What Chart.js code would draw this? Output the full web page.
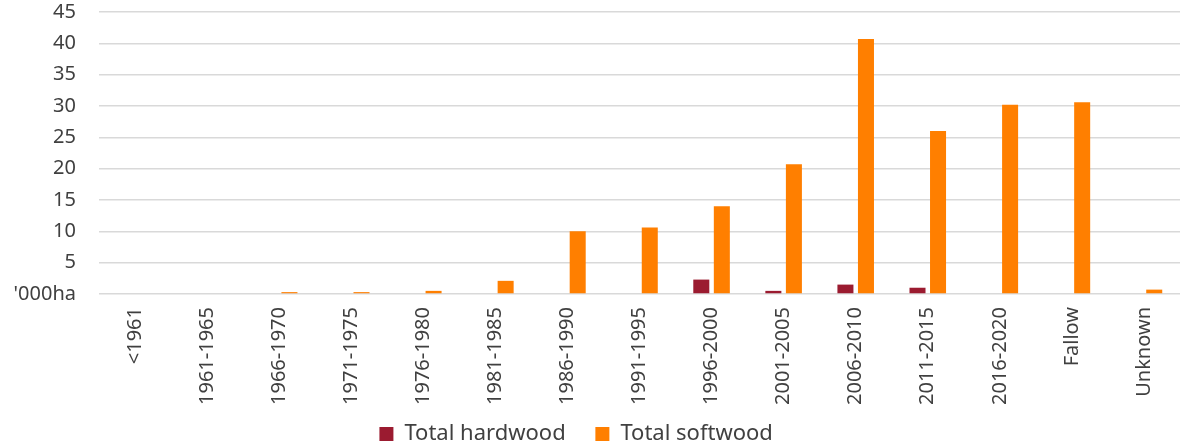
<!DOCTYPE html>
<html lang="en">
<head>
  <meta charset="UTF-8">
  <title>Planting by period</title>
  <script src="https://cdn.jsdelivr.net/npm/chart.js"></script>
  <style>
    html, body { margin: 0; padding: 0; background: #fff; }
    #wrap { width: 1185px; height: 446px; }
  </style>
</head>
<body>
  <div id="wrap"><canvas id="chart"></canvas></div>
  <script>
    // categories and values
    const periods = ['<1961', '1961-1965', '1966-1970', '1971-1975', '1976-1980', '1981-1985',
      '1986-1990', '1991-1995', '1996-2000', '2001-2005', '2006-2010', '2011-2015',
      '2016-2020', 'Fallow', 'Unknown'];
    const hardwood = [0, 0, 0, 0, 0, 0, 0, 0, 2.3, 0.5, 1.5, 1.0, 0, 0, 0];
    const softwood = [0, 0, 0.3, 0.3, 0.5, 2.1, 10.0, 10.6, 14.0, 20.7, 40.7, 26.0, 30.2, 30.6, 0.7];
    const yTicks = [0, 5, 10, 15, 20, 25, 30, 35, 40, 45];

    const textColor = '#404040';
    const fontFamily = '"Noto Sans", "Open Sans", sans-serif';

    // legend sits a bit lower than chart.js would put it
    const legendNudge = {
      id: 'legendNudge',
      afterInit(chart) {
        const lg = chart.legend;
        const fit = lg.fit;
        lg.fit = function () { fit.call(this); this.height -= 9; };
      }
    };

    new Chart(document.getElementById('chart'), {
      type: 'bar',
      data: {
        labels: periods,
        datasets: [
          {
            label: 'Total hardwood',
            data: hardwood,
            backgroundColor: '#9b1b30',
            categoryPercentage: 0.57,
            barPercentage: 0.78
          },
          {
            label: 'Total softwood',
            data: softwood,
            backgroundColor: '#ff7f00',
            categoryPercentage: 0.57,
            barPercentage: 0.78
          }
        ]
      },
      plugins: [legendNudge],
      options: {
        responsive: true,
        maintainAspectRatio: false,
        animation: false,
        layout: { padding: { top: 0, right: 5, left: 0, bottom: 0 } },
        plugins: {
          legend: {
            position: 'bottom',
            labels: {
              boxWidth: 14,
              boxHeight: 14,
              color: textColor,
              padding: 2,
              font: { family: fontFamily, size: 22 },
              // trailing space gives the gap between the two entries
              generateLabels: (chart) => Chart.defaults.plugins.legend.labels.generateLabels(chart)
                .map(item => Object.assign(item, { text: item.text + '\u2003 ' }))
            }
          },
          tooltip: { enabled: false }
        },
        scales: {
          x: {
            grid: { display: false },
            border: { display: false },
            afterFit: (axis) => { axis.height = 127; },
            ticks: {
              color: textColor,
              minRotation: 90,
              maxRotation: 90,
              autoSkip: false,
              padding: 5,
              font: { family: fontFamily, size: 20 }
            }
          },
          y: {
            min: 0,
            max: 45,
            afterBuildTicks: (axis) => { axis.ticks = yTicks.map(v => ({ value: v })); },
            afterFit: (axis) => {
              axis.width = 99;
              axis.paddingTop = 12;
              axis.paddingBottom = 12;
            },
            grid: { color: '#d9d9d9', lineWidth: 1.5, drawTicks: false },
            border: { display: false },
            ticks: {
              color: textColor,
              padding: 23,
              font: { family: fontFamily, size: 20 },
              callback: (v) => v === 0 ? "'000ha" : v
            }
          }
        }
      }
    });
  </script>
</body>
</html>
